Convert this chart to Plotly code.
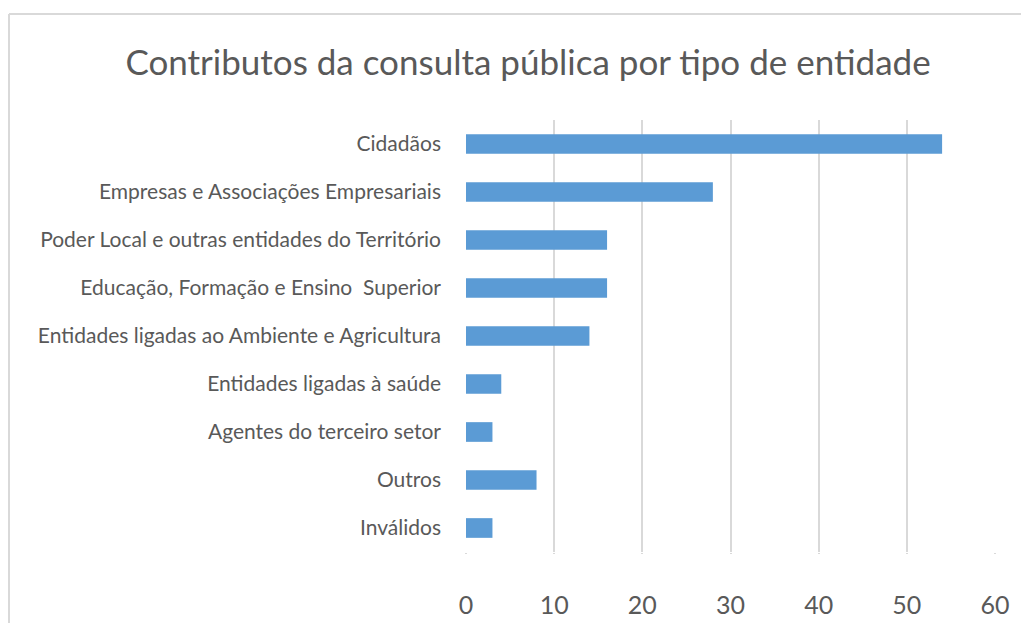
import plotly.graph_objects as go

categories = [
    "Cidadãos",
    "Empresas e Associações Empresariais",
    "Poder Local e outras entidades do Território",
    "Educação, Formação e Ensino  Superior",
    "Entidades ligadas ao Ambiente e Agricultura",
    "Entidades ligadas à saúde",
    "Agentes do terceiro setor",
    "Outros",
    "Inválidos",
]
values = [54, 28, 16, 16, 14, 4, 3, 8, 3]
x_ticks = [0, 10, 20, 30, 40, 50, 60]
title_text = "Contributos da consulta pública por tipo de entidade"

# page has an 8px body margin; figure origin sits at (8, 8)
OFF = 8
W, H = 1029 - OFF, 623 - OFF
L, T = 466 - OFF, 120 - OFF
R = W - (995 - OFF)
B = H - (552 - OFF)
pw = W - L - R
ph = H - T - B

fig = go.Figure(
    go.Bar(
        x=values,
        y=categories,
        orientation="h",
        width=0.41,
        marker=dict(color="#5B9BD5", line=dict(width=0)),
    )
)

font_family = "Lato, 'Open Sans', sans-serif"

fig.update_layout(
    width=W,
    height=H,
    margin=dict(l=L, r=R, t=T, b=B, pad=0, autoexpand=False),
    paper_bgcolor="white",
    plot_bgcolor="white",
    showlegend=False,
    font=dict(family=font_family, color="#595959"),
    title=dict(
        text=title_text,
        x=(528 - OFF) / W,
        xanchor="center",
        y=1 - (63 - OFF) / H,
        yanchor="middle",
        font=dict(size=35, color="#595959", family=font_family),
    ),
    xaxis=dict(
        range=[0, 60],
        tickvals=x_ticks,
        showgrid=True,
        gridcolor="#D9D9D9",
        gridwidth=2,
        zeroline=False,
        showline=False,
        ticks="outside",
        ticklen=1,
        tickcolor="#D9D9D9",
        tickwidth=2,
        ticklabelstandoff=30,
        tickfont=dict(size=25, color="#595959"),
        automargin=False,
    ),
    yaxis=dict(
        categoryorder="array",
        categoryarray=categories,
        autorange="reversed",
        showgrid=False,
        zeroline=False,
        showline=False,
        ticks="",
        ticklabelstandoff=24,
        tickfont=dict(size=21, color="#595959"),
        automargin=False,
    ),
    shapes=[
        dict(type="line", xref="paper", yref="paper",
             x0=(9 - OFF - L) / pw, x1=(W + 5 - L) / pw,
             y0=1 + (T - (14 - OFF)) / ph, y1=1 + (T - (14 - OFF)) / ph,
             line=dict(color="#D9D9D9", width=2)),
        dict(type="line", xref="paper", yref="paper",
             x0=(9 - OFF - L) / pw, x1=(9 - OFF - L) / pw,
             y0=1 + (T - (14 - OFF)) / ph, y1=-(B + 5) / ph,
             line=dict(color="#D9D9D9", width=2)),
    ],
)

fig.write_html("out.html")
